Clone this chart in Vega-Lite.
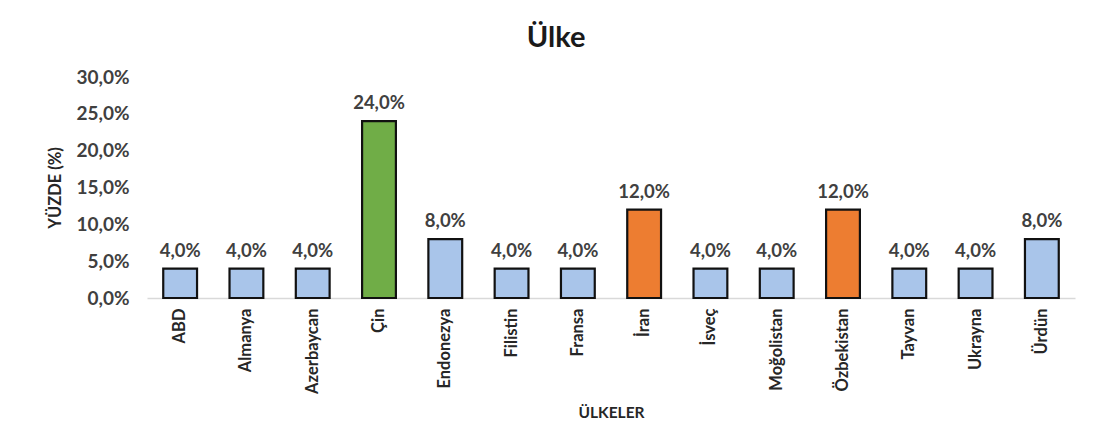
{
  "$schema": "https://vega.github.io/schema/vega-lite/v6.json",
  "autosize": "none",
  "width": 928,
  "height": 221,
  "padding": {"left": 147, "top": 77, "right": 21, "bottom": 147},
  "background": "white",
  "config": {
    "locale": {"number": {"decimal": ",", "thousands": ".", "grouping": [3], "currency": ["", " ₺"]}},
    "font": "Lato",
    "view": {"stroke": null}
  },
  "title": {"text": "Ülke", "fontSize": 29, "fontWeight": "bold", "color": "#1a1a1a", "font": "Lato", "dx": -55, "offset": 15},
  "data": {"values": [
    {"ulke": "ABD", "yuzde": 0.04},
    {"ulke": "Almanya", "yuzde": 0.04},
    {"ulke": "Azerbaycan", "yuzde": 0.04},
    {"ulke": "Çin", "yuzde": 0.24},
    {"ulke": "Endonezya", "yuzde": 0.08},
    {"ulke": "Filistin", "yuzde": 0.04},
    {"ulke": "Fransa", "yuzde": 0.04},
    {"ulke": "İran", "yuzde": 0.12},
    {"ulke": "İsveç", "yuzde": 0.04},
    {"ulke": "Moğolistan", "yuzde": 0.04},
    {"ulke": "Özbekistan", "yuzde": 0.12},
    {"ulke": "Tayvan", "yuzde": 0.04},
    {"ulke": "Ukrayna", "yuzde": 0.04},
    {"ulke": "Ürdün", "yuzde": 0.08}
  ]},
  "encoding": {
    "x": {"field": "ulke", "type": "nominal", "sort": null,
      "scale": {"paddingInner": 0.49, "paddingOuter": 0.245},
      "axis": {"title": "ÜLKELER", "titleFontSize": 15.5, "titleFontWeight": "bold", "titleColor": "#262626", "titlePadding": 12,
        "labelAngle": -90, "labelFontSize": 16.5, "labelFontWeight": "bold", "labelColor": "#262626", "labelPadding": 10,
        "ticks": false, "domainColor": "#d9d9d9", "domainWidth": 1.5}},
    "y": {"field": "yuzde", "type": "quantitative",
      "scale": {"domain": [0, 0.3]},
      "axis": {"title": "YÜZDE (%)", "titleFontSize": 16.5, "titleFontWeight": "bold", "titleColor": "#262626", "titlePadding": 12,
        "format": ".1%", "values": [0, 0.05, 0.1, 0.15, 0.2, 0.25, 0.3], "labelFontSize": 19, "labelFontWeight": "bold", "labelColor": "#404040", "labelPadding": 18,
        "domain": false, "ticks": false, "grid": false}}
  },
  "layer": [
    {"mark": {"type": "bar", "stroke": "#111111", "strokeWidth": 2.2},
      "encoding": {"color": {"condition": [
        {"test": "datum.yuzde >= 0.2", "value": "#70ad47"},
        {"test": "datum.yuzde >= 0.1", "value": "#ed7d31"}],
        "value": "#a9c5ea"}}},
    {"mark": {"type": "text", "baseline": "bottom", "dy": -8, "fontSize": 18.5, "fontWeight": "bold", "color": "#404040"},
      "encoding": {"text": {"field": "yuzde", "type": "quantitative", "format": ".1%"}}}
  ]
}
